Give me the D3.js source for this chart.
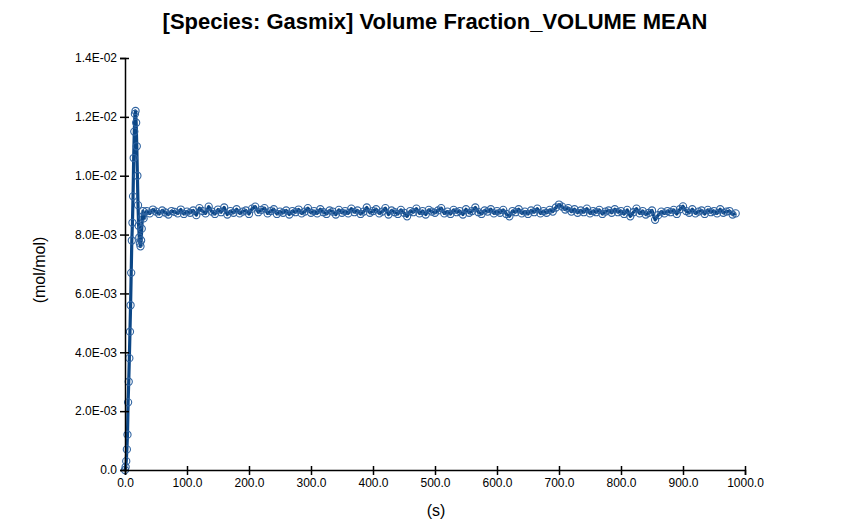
<!DOCTYPE html>
<html>
<head>
<meta charset="utf-8">
<script src="https://cdn.jsdelivr.net/npm/d3@7"></script>
<style>
body { margin: 0; background: #fff; }
text { font-family: "Liberation Sans", Arial, sans-serif; }
</style>
</head>
<body>
<svg id="svg0" width="864" height="529"></svg>
<script>
var width = 864, height = 529;

// startup transient (time s, value in 1e-3 mol/mol)
var riseTimes = [0,1,2,3,4,5,6,7,8,9,10,11,12,13,14,15,16,17,18,19,20,21,22,23,24,25,26,27,28,29];
var riseValues = [0,0.1,0.3,0.7,1.2,2.3,3.0,3.8,4.7,5.6,6.7,7.8,8.4,9.3,10.6,11.5,12.1,12.2,11.8,11.0,10.0,9.0,8.3,7.9,7.7,7.6,7.8,8.2,8.6,8.8];

// plateau, sampled every 5 s from 30 s
var plateauStart = 30, plateauStep = 5;
var plateauValues = [
  8.55,8.80,8.72,8.85,8.78,8.70,8.82,8.75,8.68,8.80,8.77,8.72,8.85,8.70,8.78,
  8.74,8.82,8.66,8.90,8.80,8.72,8.95,8.78,8.70,8.85,8.76,8.92,8.68,8.80,8.74,8.86,8.72,8.78,8.82,8.70,
  8.88,8.95,8.76,8.84,8.90,8.72,8.80,8.86,8.70,8.78,8.74,8.82,8.68,8.80,8.76,8.85,8.72,8.78,8.90,8.74,
  8.80,8.72,8.86,8.76,8.70,8.82,8.78,8.68,8.84,8.74,8.80,8.72,8.88,8.76,8.82,8.70,8.78,8.92,8.74,8.80,
  8.86,8.72,8.78,8.90,8.68,8.82,8.76,8.70,8.84,8.74,8.62,8.80,8.76,8.88,8.72,8.80,8.68,8.84,8.78,8.74,
  8.82,8.90,8.72,8.78,8.70,8.84,8.76,8.80,8.68,8.86,8.74,8.80,8.92,8.76,8.70,8.82,8.78,8.86,8.72,8.80,
  8.74,8.84,8.70,8.62,8.80,8.76,8.86,8.72,8.78,8.70,8.82,8.76,8.88,8.72,8.80,8.74,8.84,8.78,8.92,9.02,
  8.95,8.85,8.90,8.78,8.86,8.74,8.82,8.76,8.88,8.72,8.80,8.76,8.84,8.70,8.78,8.82,8.74,8.86,8.76,8.80,
  8.70,8.84,8.62,8.76,8.88,8.72,8.80,8.68,8.74,8.82,8.50,8.66,8.78,8.72,8.80,8.76,8.84,8.70,8.86,8.96,
  8.80,8.74,8.86,8.72,8.78,8.82,8.70,8.84,8.76,8.80,8.72,8.86,8.74,8.78,8.80,8.68,8.72
];

var xTicks = [0,100,200,300,400,500,600,700,800,900,1000];
var yTicks = [0,0.002,0.004,0.006,0.008,0.010,0.012,0.014];

var data = riseTimes.map(function(t, i){ return {t: t, v: riseValues[i] * 1e-3}; });
plateauValues.forEach(function(v, i){
  data.push({t: plateauStart + i * plateauStep, v: v * 1e-3});
});

var x = d3.scaleLinear().domain([0, 1000]).range([125, 745]);
var y = d3.scaleLinear().domain([0, 0.014]).range([470, 58]);

var svg = d3.select('#svg0');

svg.append('text')
  .attr('x', 435).attr('y', 29)
  .attr('text-anchor', 'middle')
  .attr('font-size', 22).attr('font-weight', 'bold')
  .text('[Species: Gasmix] Volume Fraction_VOLUME MEAN');

var line = d3.line().x(function(d){ return x(d.t); }).y(function(d){ return y(d.v); });

svg.append('path')
  .datum(data)
  .attr('d', line)
  .attr('fill', 'none')
  .attr('stroke', '#0b4686')
  .attr('stroke-width', 3.2)
  .attr('stroke-linejoin', 'round');

svg.selectAll('circle')
  .data(data)
  .enter()
  .append('circle')
  .attr('cx', function(d){ return x(d.t); })
  .attr('cy', function(d){ return y(d.v); })
  .attr('r', 3.6)
  .attr('fill', 'none')
  .attr('stroke', '#2f63a0')
  .attr('stroke-width', 1.1);

var xAxis = svg.append('g')
  .attr('transform', 'translate(0,470)')
  .call(d3.axisBottom(x).tickValues(xTicks).tickSizeOuter(0).tickSize(5)
    .tickFormat(function(d){ return d.toFixed(1); }));

var yAxis = svg.append('g')
  .attr('transform', 'translate(125,0)')
  .call(d3.axisLeft(y).tickValues(yTicks).tickSizeOuter(0).tickSize(5)
    .tickFormat(function(d){
      if (d === 0) return '0.0';
      var s = d.toExponential(1).toUpperCase();
      return s.replace(/E-(\d)$/, 'E-0$1');
    }));

[xAxis, yAxis].forEach(function(g){
  g.selectAll('path').attr('stroke', '#000').attr('stroke-width', 1.5);
  g.selectAll('line').attr('stroke', '#000').attr('stroke-width', 1.5);
  g.selectAll('text').attr('font-size', 12).attr('fill', '#000')
    .style('font-family', '"Liberation Sans", Arial, sans-serif');
});
yAxis.selectAll('.tick line').attr('x2', -5).attr('x1', 4);
xAxis.selectAll('.tick line').attr('y1', -4);

svg.append('text')
  .attr('x', 436).attr('y', 516)
  .attr('text-anchor', 'middle')
  .attr('font-size', 16)
  .text('(s)');

svg.append('text')
  .attr('transform', 'translate(45,270) rotate(-90)')
  .attr('text-anchor', 'middle')
  .attr('font-size', 16)
  .text('(mol/mol)');
</script>
</body>
</html>
